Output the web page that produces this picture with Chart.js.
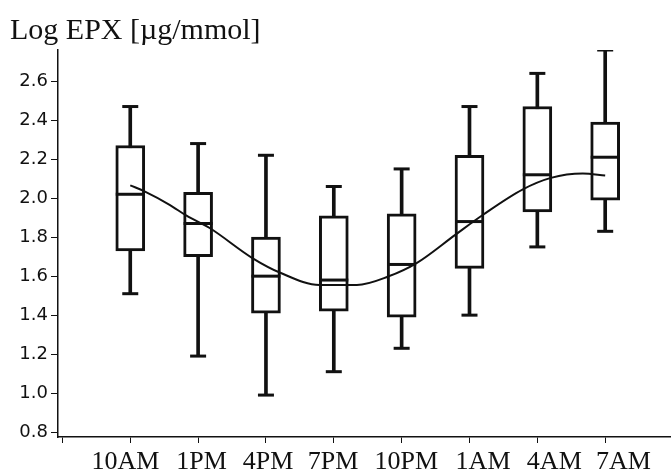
<!DOCTYPE html>
<html>
<head>
<meta charset="utf-8">
<script src="https://cdn.jsdelivr.net/npm/chart.js@4.4.1/dist/chart.umd.min.js"></script>
<style>
html,body{margin:0;padding:0;background:#fff;}
canvas{display:block;}
</style>
</head>
<body>
<canvas id="c" width="671" height="474"></canvas>
<script>
const categories = ['10AM','1PM','4PM','7PM','10PM','1AM','4AM','7AM'];
const whiskerLow  = [1.51, 1.19, 0.99, 1.11, 1.23, 1.40, 1.75, 1.83];
const q1          = [1.73, 1.70, 1.41, 1.42, 1.39, 1.64, 1.93, 1.99];
const median      = [2.02, 1.87, 1.60, 1.58, 1.66, 1.88, 2.12, 2.21];
const q3          = [2.27, 2.03, 1.80, 1.91, 1.92, 2.22, 2.47, 2.39];
const whiskerHigh = [2.47, 2.28, 2.22, 2.06, 2.15, 2.47, 2.64, 2.76];
const fitX = [1.00, 1.21, 1.58, 1.83, 2.17, 2.80, 3.22, 3.79, 4.34, 4.80, 5.22, 5.79, 6.20, 6.78, 7.20, 7.67, 8.00];
const fitY = [2.066, 2.035, 1.966, 1.910, 1.847, 1.693, 1.616, 1.555, 1.555, 1.598, 1.667, 1.812, 1.915, 2.044, 2.104, 2.126, 2.116];
const yTicks = [0.8, 1.0, 1.2, 1.4, 1.6, 1.8, 2.0, 2.2, 2.4, 2.6];
const titleText = 'Log EPX [µg/mmol]';

const INK = '#111';
const pos = categories.map((c, i) => i + 1);
// layout only: horizontal nudge of each category label (in category units), as typeset in the original figure
const labelNudge = [-0.07, 0.05, 0.03, -0.01, 0.07, 0.2, 0.25, 0.27];

new Chart(document.getElementById('c'), {
  type: 'bar',
  data: {
    datasets: [
      {
        type: 'line',
        data: fitX.map((x, i) => ({x: x, y: fitY[i]})),
        borderColor: INK, borderWidth: 2, pointRadius: 0,
        cubicInterpolationMode: 'monotone', fill: false, order: 0
      },
      {
        type: 'line', showLine: false,
        data: pos.map((x, i) => ({x: x, y: median[i]})),
        pointStyle: 'line', pointRadius: 14.5, pointBorderWidth: 3,
        borderColor: INK, pointBorderColor: INK, order: 1
      },
      {
        type: 'line', showLine: false,
        data: pos.map((x, i) => ({x: x, y: whiskerLow[i]})).concat(pos.map((x, i) => ({x: x, y: whiskerHigh[i]}))),
        pointStyle: 'line', pointRadius: 8, pointBorderWidth: 3,
        borderColor: INK, pointBorderColor: INK, order: 1
      },
      {
        type: 'bar',
        data: pos.map((x, i) => ({x: x, y: [q1[i], q3[i]]})),
        barThickness: 29, backgroundColor: '#fff', borderColor: INK,
        borderWidth: 3, borderSkipped: false, grouped: false, order: 2
      },
      {
        type: 'bar',
        data: pos.map((x, i) => ({x: x, y: [whiskerLow[i], whiskerHigh[i]]})),
        barThickness: 3, backgroundColor: INK, borderWidth: 0,
        grouped: false, order: 3
      }
    ]
  },
  options: {
    responsive: false,
    animation: false,
    events: [],
    layout: {autoPadding: false, padding: {left: 10, right: 0, top: 0, bottom: 0}},
    plugins: {
      legend: {display: false},
      tooltip: {enabled: false},
      title: {
        display: true, text: titleText, align: 'start', color: INK,
        font: {family: 'Liberation Serif', size: 30, weight: 'normal', lineHeight: 1.2},
        padding: {top: 13, bottom: 1}
      }
    },
    scales: {
      x: {
        type: 'linear', min: -0.065, max: 8.97, offset: false, weight: 0,
        border: {color: INK, width: 1.5},
        grid: {drawOnChartArea: false, drawTicks: true, tickLength: 6, color: INK, offset: false},
        afterBuildTicks: (s) => { s.ticks = [0].concat(pos).map(v => ({value: v})); },
        afterFit: (s) => { s.height = 6; s.paddingLeft = 0; s.paddingRight = 0; },
        ticks: {display: false, autoSkip: false, maxRotation: 0}
      },
      xLabels: {
        type: 'linear', position: 'bottom', axis: 'x', min: -0.065, max: 8.97, offset: false, weight: 1,
        border: {display: false},
        grid: {display: false, drawTicks: false},
        afterBuildTicks: (s) => { s.ticks = pos.map((v, i) => ({value: v + labelNudge[i]})); },
        afterFit: (s) => { s.height = 31; s.paddingLeft = 0; s.paddingRight = 0; },
        ticks: {
          autoSkip: false, maxRotation: 0, padding: 4, color: INK,
          font: {family: 'Liberation Serif', size: 26},
          callback: (v, i) => categories[i]
        }
      },
      y: {
        type: 'linear', min: 0.775, max: 2.76,
        border: {color: INK, width: 1.5},
        grid: {drawOnChartArea: false, drawTicks: true, tickLength: 7, color: INK},
        afterBuildTicks: (s) => { s.ticks = yTicks.map(v => ({value: v})); },
        afterFit: (s) => { s.width = 48; },
        ticks: {
          padding: 3, color: INK,
          font: {family: 'DejaVu Sans', size: 18},
          callback: (v) => Number(v).toFixed(1)
        }
      }
    }
  }
});
</script>
</body>
</html>
